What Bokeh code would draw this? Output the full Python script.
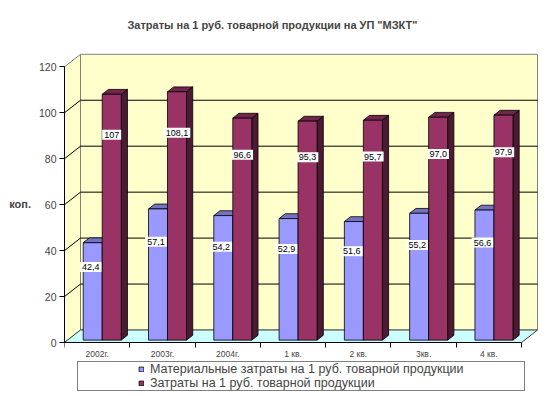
import numpy as np
from bokeh.plotting import figure
from bokeh.models import FixedTicker, Label, Legend, LegendItem
from bokeh.core.properties import value
from bokeh.embed import file_html
from bokeh.resources import INLINE

# ---------------- data ----------------
categories = ["2002г.", "2003г.", "2004г.", "1 кв.", "2 кв.", "3кв.", "4 кв."]
material_costs = [42.4, 57.1, 54.2, 52.9, 51.6, 55.2, 56.6]
total_costs = [107.0, 108.1, 96.6, 95.3, 95.7, 97.0, 97.9]
material_labels = ["42,4", "57,1", "54,2", "52,9", "51,6", "55,2", "56,6"]
total_labels = ["107", "108,1", "96,6", "95,3", "95,7", "97,0", "97,9"]
y_ticks = [0, 20, 40, 60, 80, 100, 120]
series_names = ["Материальные затраты на 1 руб. товарной продукции",
                "Затраты на 1 руб. товарной продукции"]
title_text = 'Затраты на 1 руб. товарной продукции на УП "МЗКТ"'
y_unit = "коп."

# ---------------- 3D projection style ----------------
DX, DY = 0.245, 5.44      # depth offset of back wall (category units, value units)
Z0, DZ = 0.19, 0.39       # bar front depth, bar thickness (fraction of depth)
BAR_W = 0.291             # bar width in category units
OFFS = [0.24, 0.24 + BAR_W]
FONT = "Liberation Sans"

n = len(categories)
idx = np.arange(n)
y_max = y_ticks[-1]

p = figure(width=548, height=396, output_backend="svg", toolbar_location=None,
           x_range=(0, n + 0.26), y_range=(-23.5, 144.5),
           min_border_left=64, min_border_right=10, min_border_top=10, min_border_bottom=0)
p.outline_line_color = None
p.grid.grid_line_color = None
p.background_fill_color = "white"
p.border_fill_color = "white"

# walls and floor
p.quad(left=DX, right=n + DX, bottom=DY, top=y_max + DY,
       fill_color="#FFFFCC", line_color="#808080", line_width=1)
p.patch([0, DX, DX, 0], [0, DY, y_max + DY, y_max],
        fill_color="#FFFFCC", line_color="#808080", line_width=1)
p.patch([0, n, n + DX, DX], [0, 0, DY, DY],
        fill_color="#CCFFFF", line_color="#404040", line_width=1)

grid_vals = [t for t in y_ticks if 0 < t < y_max]
p.multi_line([[DX, n + DX] for _ in grid_vals], [[v + DY, v + DY] for v in grid_vals],
             line_color="black", line_width=1)
p.multi_line([[0, DX] for _ in grid_vals], [[v, v + DY] for v in grid_vals],
             line_color="black", line_width=1)


def draw_bars(values, offset, c_front, c_top, c_side):
    vals = np.asarray(values, dtype=float)
    x0 = idx + offset + Z0 * DX
    x1 = x0 + BAR_W
    yb = Z0 * DY
    yt = vals + Z0 * DY
    ddx, ddy = DZ * DX, DZ * DY
    side_xs = [[b, b + ddx, b + ddx, b] for b in x1]
    side_ys = [[yb, yb + ddy, t + ddy, t] for t in yt]
    top_xs = [[a, b, b + ddx, a + ddx] for a, b in zip(x0, x1)]
    top_ys = [[t, t, t + ddy, t + ddy] for t in yt]
    p.patches(side_xs, side_ys, fill_color=c_side, line_color="black", line_width=0.8)
    p.patches(top_xs, top_ys, fill_color=c_top, line_color="black", line_width=0.8)
    r = p.quad(left=x0, right=x1, bottom=yb, top=yt,
               fill_color=c_front, line_color="black", line_width=0.8)
    return r, (x0 + x1) / 2


r_mat, cx_mat = draw_bars(material_costs, OFFS[0], "#9999FF", "#7373BF", "#4D4D80")
r_tot, cx_tot = draw_bars(total_costs, OFFS[1], "#993366", "#73264D", "#4D1A33")

# data labels
p.text(x=cx_mat, y=np.asarray(material_costs) * 0.75 + Z0 * DY, text=material_labels,
       x_offset=-2, text_align="center", text_baseline="middle",
       text_font=value(FONT), text_font_size="9px", text_color="black",
       background_fill_color="white", padding=2)
p.text(x=cx_tot, y=np.asarray(total_costs) * 0.835 + Z0 * DY, text=total_labels,
       text_align="center", text_baseline="middle",
       text_font=value(FONT), text_font_size="9px", text_color="black",
       background_fill_color="white", padding=2)

# axes
xa = p.xaxis[0]
xa.fixed_location = 0
xa.ticker = FixedTicker(ticks=[float(i) + 0.5 for i in idx], minor_ticks=list(range(n + 1)))
xa.major_label_overrides = {float(i) + 0.5: c for i, c in zip(idx, categories)}
xa.bounds = (0, n)
xa.major_tick_out = 0
xa.major_tick_in = 0
xa.minor_tick_out = 5
xa.minor_tick_in = 0
xa.minor_tick_line_color = "black"
xa.axis_line_color = "black"
xa.major_label_text_font = FONT
xa.major_label_text_font_size = "8.5px"
xa.major_label_standoff = 1

ya = p.yaxis[0]
ya.ticker = FixedTicker(ticks=y_ticks, minor_ticks=[])
ya.bounds = (0, y_max)
ya.major_tick_out = 5
ya.major_tick_in = 0
ya.axis_line_color = "black"
ya.major_label_text_font = FONT
ya.major_label_text_font_size = "10.5px"
ya.major_label_standoff = 3
ya.axis_label = y_unit
ya.axis_label_orientation = "horizontal"
ya.axis_label_text_font = FONT
ya.axis_label_text_font_size = "11px"
ya.axis_label_text_font_style = "bold"
ya.axis_label_standoff = 5

# title
p.add_layout(Label(x=208, y=371.5, x_units="screen", y_units="screen", text=title_text,
                   text_align="center", text_baseline="middle", text_font=FONT,
                   text_font_size="11px", text_font_style="bold"))

# legend (blank side columns give the wide framed box)
r_blank = p.scatter(x=[], y=[], fill_alpha=0, line_alpha=0)
blank = [LegendItem(label=" ", renderers=[r_blank]) for _ in range(4)]
legend = Legend(items=blank[:2] + [LegendItem(label=series_names[0], renderers=[r_mat]),
                                   LegendItem(label=series_names[1], renderers=[r_tot])] + blank[2:],
                location=(13, 5), orientation="vertical", nrows=2,
                glyph_width=6, glyph_height=6, label_standoff=6, padding=0, margin=0,
                spacing=0, label_width=48, label_height=12,
                border_line_color="black", border_line_width=1,
                background_fill_color="white", background_fill_alpha=1,
                label_text_font=FONT, label_text_font_size="12.5px")
p.add_layout(legend, "center")

open("out.html", "w").write(file_html(p, INLINE))
